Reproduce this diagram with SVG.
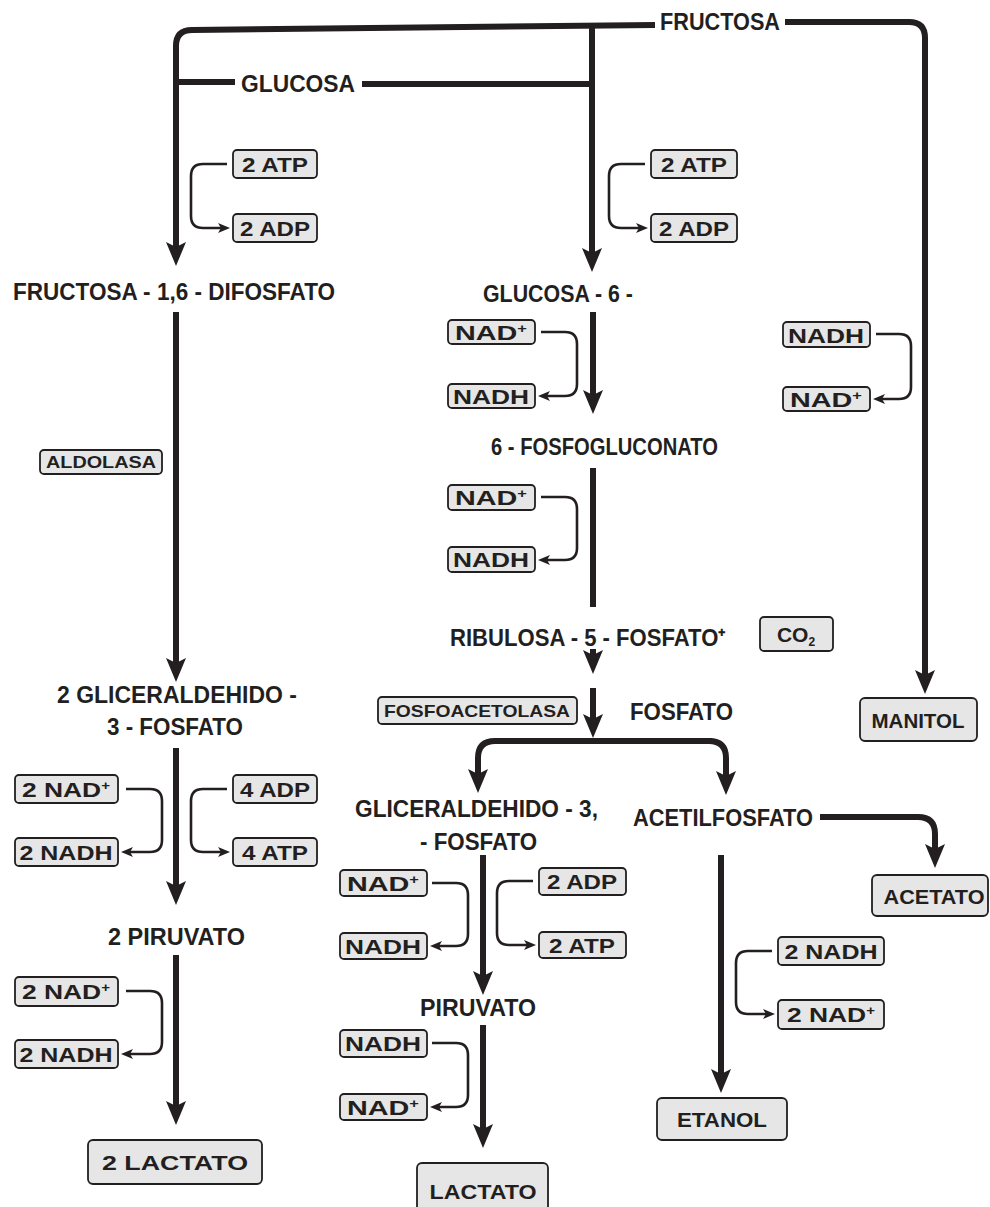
<svg xmlns="http://www.w3.org/2000/svg" width="990" height="1207" viewBox="0 0 990 1207">
<defs>
<style>
.t{font-family:"Liberation Sans Narrow","Liberation Sans",Arial,sans-serif;font-weight:bold;font-size:23px;fill:#231f20}
.b{font-family:"Liberation Sans Narrow","Liberation Sans",Arial,sans-serif;font-weight:bold;font-size:21px;fill:#231f20;text-anchor:middle}
.s{font-size:17px}
.box{fill:#e6e6e6;stroke:#231f20;stroke-width:1.8}
.main{fill:none;stroke:#231f20;stroke-width:6}
.thin{fill:none;stroke:#231f20;stroke-width:2.6}
</style>
<marker id="big" viewBox="0 0 24 20" refX="8" refY="10" markerWidth="24" markerHeight="20" markerUnits="userSpaceOnUse" orient="auto">
<path d="M0,0 L24,10 L0,20 L5,10 z" fill="#231f20"/>
</marker>
<marker id="sm" viewBox="0 0 12 10" refX="4" refY="5" markerWidth="12" markerHeight="10" markerUnits="userSpaceOnUse" orient="auto">
<path d="M0,0 L12,5 L0,10 L3,5 z" fill="#231f20"/>
</marker>
</defs>
<rect width="990" height="1207" fill="#ffffff"/>

<g id="connectors">
<path class="main" d="M655,25 L192,30 Q176,30 176,46 L176,250" marker-end="url(#big)"/>
<path class="main" d="M176,82 L235,82"/>
<path class="main" d="M362,84 L592,84"/>
<path class="main" d="M592,25 L592,256" marker-end="url(#big)"/>
<path class="main" d="M785,22 L909,22 Q925,22 925,38 L925,678" marker-end="url(#big)"/>
<path class="main" d="M176,312 L176,666" marker-end="url(#big)"/>
<path class="main" d="M176,748 L176,889" marker-end="url(#big)"/>
<path class="main" d="M176,955 L176,1109" marker-end="url(#big)"/>
<path class="main" d="M593,312 L593,398" marker-end="url(#big)"/>
<path class="main" d="M593,468 L593,607"/>
<path class="main" d="M593,649 L593,658" marker-end="url(#big)"/>
<path class="main" d="M593,688 L593,722" marker-end="url(#big)"/>
<path class="main" d="M712,741 L495,741 Q478,741 478,758 L478,777" marker-end="url(#big)"/>
<path class="main" d="M700,741 L709,741 Q726,741 726,758 L726,779" marker-end="url(#big)"/>
<path class="main" d="M820,817 L918,817 Q935,817 935,834 L935,852" marker-end="url(#big)"/>
<path class="main" d="M483,855 L483,979" marker-end="url(#big)"/>
<path class="main" d="M483,1025 L483,1132" marker-end="url(#big)"/>
<path class="main" d="M721,855 L721,1077" marker-end="url(#big)"/>

<path class="thin" d="M227,164 L203,164 Q191,164 191,176 L191,216 Q191,228 203,228 L222,228" marker-end="url(#sm)"/>
<path class="thin" d="M645,164 L621,164 Q609,164 609,176 L609,216 Q609,228 621,228 L640,228" marker-end="url(#sm)"/>
<path class="thin" d="M541,332 L565,332 Q577,332 577,344 L577,384 Q577,396 565,396 L546,396" marker-end="url(#sm)"/>
<path class="thin" d="M876,334 L899,334 Q911,334 911,346 L911,387 Q911,399 899,399 L881,399" marker-end="url(#sm)"/>
<path class="thin" d="M541,497 L565,497 Q577,497 577,509 L577,548 Q577,560 565,560 L546,560" marker-end="url(#sm)"/>
<path class="thin" d="M126,789 L150,789 Q162,789 162,801 L162,840 Q162,852 150,852 L129,852" marker-end="url(#sm)"/>
<path class="thin" d="M227,789 L203,789 Q191,789 191,801 L191,840 Q191,852 203,852 L222,852" marker-end="url(#sm)"/>
<path class="thin" d="M126,991 L150,991 Q162,991 162,1003 L162,1042 Q162,1054 150,1054 L129,1054" marker-end="url(#sm)"/>
<path class="thin" d="M432,883 L456,883 Q468,883 468,895 L468,934 Q468,946 456,946 L438,946" marker-end="url(#sm)"/>
<path class="thin" d="M533,881 L509,881 Q497,881 497,893 L497,933 Q497,945 509,945 L528,945" marker-end="url(#sm)"/>
<path class="thin" d="M432,1043 L456,1043 Q468,1043 468,1055 L468,1095 Q468,1107 456,1107 L438,1107" marker-end="url(#sm)"/>
<path class="thin" d="M772,951 L748,951 Q736,951 736,963 L736,1002 Q736,1014 748,1014 L767,1014" marker-end="url(#sm)"/>
</g>

<g id="fructosa"><text class="t" x="660" y="30" textLength="120" lengthAdjust="spacingAndGlyphs">FRUCTOSA</text></g>
<g id="glucosa"><text class="t" x="241" y="92" textLength="114" lengthAdjust="spacingAndGlyphs">GLUCOSA</text></g>

<g id="atp1"><rect class="box" x="233" y="150" width="84" height="28" rx="4"/><text class="b" x="275" y="172" textLength="66" lengthAdjust="spacingAndGlyphs">2 ATP</text></g>
<g id="adp1"><rect class="box" x="233" y="214" width="84" height="28" rx="4"/><text class="b" x="275" y="236" textLength="70" lengthAdjust="spacingAndGlyphs">2 ADP</text></g>
<g id="atp2"><rect class="box" x="651" y="150" width="86" height="28" rx="4"/><text class="b" x="694" y="172" textLength="66" lengthAdjust="spacingAndGlyphs">2 ATP</text></g>
<g id="adp2"><rect class="box" x="651" y="214" width="86" height="28" rx="4"/><text class="b" x="694" y="236" textLength="70" lengthAdjust="spacingAndGlyphs">2 ADP</text></g>

<g id="f16dp"><text class="t" x="13" y="300" textLength="322" lengthAdjust="spacingAndGlyphs">FRUCTOSA - 1,6 - DIFOSFATO</text></g>
<g id="g6"><text class="t" x="483" y="302" textLength="150" lengthAdjust="spacingAndGlyphs">GLUCOSA - 6 -</text></g>

<g id="nad1"><rect class="box" x="448" y="320" width="87" height="24" rx="4"/><text class="b" x="491" y="340" textLength="72" lengthAdjust="spacingAndGlyphs">NAD<tspan font-size="12" dy="-7">+</tspan></text></g>
<g id="nadh1"><rect class="box" x="448" y="384" width="87" height="24" rx="4"/><text class="b" x="491" y="404" textLength="76" lengthAdjust="spacingAndGlyphs">NADH</text></g>
<g id="nadh-m"><rect class="box" x="783" y="322" width="87" height="25" rx="4"/><text class="b" x="826" y="343" textLength="76" lengthAdjust="spacingAndGlyphs">NADH</text></g>
<g id="nad-m"><rect class="box" x="783" y="387" width="87" height="24" rx="4"/><text class="b" x="826" y="407" textLength="72" lengthAdjust="spacingAndGlyphs">NAD<tspan font-size="12" dy="-7">+</tspan></text></g>

<g id="fosfogluconato"><text class="t" x="491" y="455" textLength="227" lengthAdjust="spacingAndGlyphs">6 - FOSFOGLUCONATO</text></g>

<g id="nad2"><rect class="box" x="448" y="485" width="87" height="25" rx="4"/><text class="b" x="491" y="505" textLength="72" lengthAdjust="spacingAndGlyphs">NAD<tspan font-size="12" dy="-7">+</tspan></text></g>
<g id="nadh2"><rect class="box" x="448" y="547" width="87" height="25" rx="4"/><text class="b" x="491" y="567" textLength="76" lengthAdjust="spacingAndGlyphs">NADH</text></g>

<g id="ribulosa"><text class="t" x="450" y="646" textLength="276" lengthAdjust="spacingAndGlyphs">RIBULOSA - 5 - FOSFATO⁺</text></g>
<g id="co2"><rect class="box" x="760" y="617" width="73" height="34" rx="4"/><text class="b" x="796" y="642">CO<tspan font-size="12" dy="4">2</tspan></text></g>

<g id="fosfoacetolasa"><rect class="box" x="378" y="697" width="199" height="27" rx="4"/><text class="b s" x="477" y="717" textLength="186" lengthAdjust="spacingAndGlyphs">FOSFOACETOLASA</text></g>
<g id="fosfato"><text class="t" x="630" y="720" textLength="103" lengthAdjust="spacingAndGlyphs">FOSFATO</text></g>

<g id="aldolasa"><rect class="box" x="40" y="450" width="122" height="24" rx="4"/><text class="b s" x="101" y="468" textLength="110" lengthAdjust="spacingAndGlyphs">ALDOLASA</text></g>

<g id="gliceraldehido2"><text class="t" x="57" y="703" textLength="240" lengthAdjust="spacingAndGlyphs">2 GLICERALDEHIDO -</text><text class="t" x="107" y="735" textLength="136" lengthAdjust="spacingAndGlyphs">3 - FOSFATO</text></g>

<g id="nad3"><rect class="box" x="15" y="775" width="103" height="28" rx="4"/><text class="b" x="66" y="797" textLength="88" lengthAdjust="spacingAndGlyphs">2 NAD<tspan font-size="12" dy="-7">+</tspan></text></g>
<g id="nadh3"><rect class="box" x="15" y="838" width="103" height="28" rx="4"/><text class="b" x="66" y="860" textLength="93" lengthAdjust="spacingAndGlyphs">2 NADH</text></g>
<g id="adp4"><rect class="box" x="233" y="775" width="84" height="28" rx="4"/><text class="b" x="275" y="797" textLength="70" lengthAdjust="spacingAndGlyphs">4 ADP</text></g>
<g id="atp4"><rect class="box" x="233" y="838" width="84" height="28" rx="4"/><text class="b" x="275" y="860" textLength="66" lengthAdjust="spacingAndGlyphs">4 ATP</text></g>

<g id="piruvato2"><text class="t" x="108" y="945" textLength="137" lengthAdjust="spacingAndGlyphs">2 PIRUVATO</text></g>
<g id="nad4"><rect class="box" x="15" y="977" width="103" height="29" rx="4"/><text class="b" x="66" y="999" textLength="88" lengthAdjust="spacingAndGlyphs">2 NAD<tspan font-size="12" dy="-7">+</tspan></text></g>
<g id="nadh4"><rect class="box" x="15" y="1040" width="103" height="28" rx="4"/><text class="b" x="66" y="1062" textLength="93" lengthAdjust="spacingAndGlyphs">2 NADH</text></g>
<g id="lactato2"><rect class="box" x="88" y="1140" width="174" height="44" rx="5"/><text class="b" x="175" y="1170" textLength="146" lengthAdjust="spacingAndGlyphs">2 LACTATO</text></g>

<g id="gliceraldehido"><text class="t" x="355" y="817" textLength="243" lengthAdjust="spacingAndGlyphs">GLICERALDEHIDO - 3,</text><text class="t" x="420" y="850" textLength="117" lengthAdjust="spacingAndGlyphs">- FOSFATO</text></g>
<g id="acetilfosfato"><text class="t" x="633" y="826" textLength="180" lengthAdjust="spacingAndGlyphs">ACETILFOSFATO</text></g>
<g id="acetato"><rect class="box" x="872" y="875" width="116" height="41" rx="5"/><text class="b" x="934" y="904" textLength="101" lengthAdjust="spacingAndGlyphs">ACETATO</text></g>

<g id="nad5"><rect class="box" x="340" y="870" width="87" height="26" rx="4"/><text class="b" x="383" y="891" textLength="72" lengthAdjust="spacingAndGlyphs">NAD<tspan font-size="12" dy="-7">+</tspan></text></g>
<g id="nadh5"><rect class="box" x="340" y="933" width="87" height="26" rx="4"/><text class="b" x="383" y="954" textLength="76" lengthAdjust="spacingAndGlyphs">NADH</text></g>
<g id="adp5"><rect class="box" x="539" y="868" width="87" height="27" rx="4"/><text class="b" x="582" y="889" textLength="70" lengthAdjust="spacingAndGlyphs">2 ADP</text></g>
<g id="atp5"><rect class="box" x="539" y="932" width="87" height="26" rx="4"/><text class="b" x="582" y="953" textLength="66" lengthAdjust="spacingAndGlyphs">2 ATP</text></g>

<g id="piruvato"><text class="t" x="420" y="1016" textLength="116" lengthAdjust="spacingAndGlyphs">PIRUVATO</text></g>
<g id="nadh6"><rect class="box" x="340" y="1030" width="87" height="27" rx="4"/><text class="b" x="383" y="1051" textLength="76" lengthAdjust="spacingAndGlyphs">NADH</text></g>
<g id="nad6"><rect class="box" x="340" y="1094" width="87" height="26" rx="4"/><text class="b" x="383" y="1115" textLength="72" lengthAdjust="spacingAndGlyphs">NAD<tspan font-size="12" dy="-7">+</tspan></text></g>
<g id="lactato"><rect class="box" x="417" y="1163" width="131" height="52" rx="5"/><text class="b" x="483" y="1199" textLength="107" lengthAdjust="spacingAndGlyphs">LACTATO</text></g>

<g id="nadh7"><rect class="box" x="778" y="937" width="106" height="28" rx="4"/><text class="b" x="831" y="959" textLength="93" lengthAdjust="spacingAndGlyphs">2 NADH</text></g>
<g id="nad7"><rect class="box" x="778" y="1000" width="106" height="29" rx="4"/><text class="b" x="831" y="1022" textLength="88" lengthAdjust="spacingAndGlyphs">2 NAD<tspan font-size="12" dy="-7">+</tspan></text></g>
<g id="etanol"><rect class="box" x="657" y="1098" width="130" height="42" rx="5"/><text class="b" x="722" y="1127" textLength="90" lengthAdjust="spacingAndGlyphs">ETANOL</text></g>
<g id="manitol"><rect class="box" x="860" y="698" width="117" height="43" rx="5"/><text class="b" x="918" y="728" textLength="93" lengthAdjust="spacingAndGlyphs">MANITOL</text></g>
</svg>
